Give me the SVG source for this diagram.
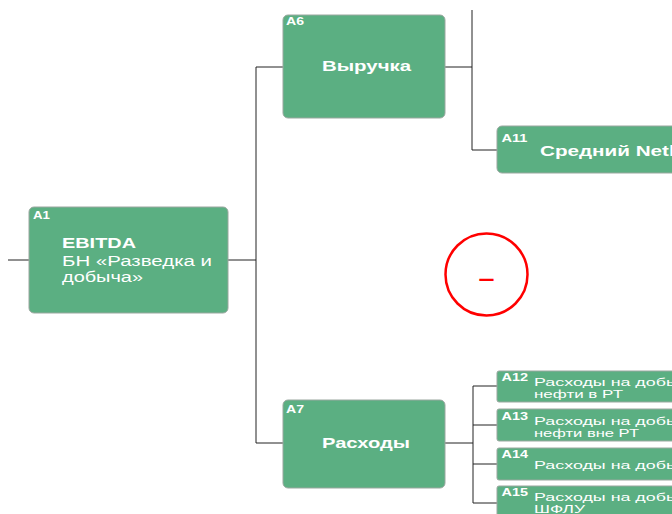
<svg xmlns="http://www.w3.org/2000/svg" width="672" height="514" viewBox="0 0 672 514">
<style>
.box{fill:#5BAF82;stroke:#9aa79f;stroke-width:1}
.id{font-family:"Liberation Sans",Arial,sans-serif;font-weight:bold;font-size:10.5px;fill:#fff}
.t{font-family:"Liberation Sans",Arial,sans-serif;font-size:14px;fill:#fff}
.h{font-family:"Liberation Sans",Arial,sans-serif;font-size:14px;font-weight:bold;fill:#fff}
.b{font-weight:bold}
.s{font-family:"Liberation Sans",Arial,sans-serif;font-size:11.5px;fill:#fff}
.c{fill:none;stroke:#222;stroke-width:1}
</style>
<rect width="672" height="514" fill="#fff"/>
<g id="connectors">
<path class="c" d="M8 260H29M228 260H256M256 67V443M256 67H283M256 443H283"/>
<path class="c" d="M445 67H472M472 10V150H497"/>
<path class="c" d="M445 443H473M473 386V503M473 386H497M473 425H497M473 464H497M473 503H497"/>
</g>
<g id="A1">
<rect class="box" x="29" y="207" width="199" height="106" rx="5"/>
<text class="id" x="33" y="219" textLength="17" lengthAdjust="spacingAndGlyphs">A1</text>
<text class="t b" x="62" y="247.5" textLength="74" lengthAdjust="spacingAndGlyphs">EBITDA</text>
<text class="t" x="62" y="265.5" textLength="150" lengthAdjust="spacingAndGlyphs">БН «Разведка и</text>
<text class="t" x="62" y="281.5" textLength="81" lengthAdjust="spacingAndGlyphs">добыча»</text>
</g>
<g id="A6">
<rect class="box" x="283" y="15" width="162" height="103" rx="5"/>
<text class="id" x="286" y="25" textLength="18" lengthAdjust="spacingAndGlyphs">A6</text>
<text class="h" x="322" y="71" textLength="89" lengthAdjust="spacingAndGlyphs">Выручка</text>
</g>
<g id="A11">
<rect class="box" x="497" y="126" width="190" height="47" rx="5"/>
<text class="id" x="501.5" y="141.5" textLength="26" lengthAdjust="spacingAndGlyphs">A11</text>
<text class="t b" x="540" y="156" textLength="176" lengthAdjust="spacingAndGlyphs">Средний Netback</text>
</g>
<g id="minus">
<circle cx="486.5" cy="274.5" r="41" fill="none" stroke="#f00" stroke-width="2.5"/>
<text x="478.5" y="286" textLength="16" lengthAdjust="spacingAndGlyphs" font-family="Liberation Sans,Arial,sans-serif" font-weight="bold" font-size="22" fill="#f00">–</text>
</g>
<g id="A7">
<rect class="box" x="283" y="400" width="162" height="88" rx="5"/>
<text class="id" x="286" y="412.5" textLength="18" lengthAdjust="spacingAndGlyphs">A7</text>
<text class="h" x="322" y="448" textLength="88" lengthAdjust="spacingAndGlyphs">Расходы</text>
</g>
<g id="A12">
<rect class="box" x="497" y="371" width="190" height="31" rx="2"/>
<text class="id" x="501.5" y="381" textLength="26.5" lengthAdjust="spacingAndGlyphs">A12</text>
<text class="s" x="534" y="386" textLength="163" lengthAdjust="spacingAndGlyphs">Расходы на добычу</text>
<text class="s" x="534" y="398" textLength="89" lengthAdjust="spacingAndGlyphs">нефти в РТ</text>
</g>
<g id="A13">
<rect class="box" x="497" y="409" width="190" height="32" rx="2"/>
<text class="id" x="501.5" y="420" textLength="26.5" lengthAdjust="spacingAndGlyphs">A13</text>
<text class="s" x="534" y="425" textLength="163" lengthAdjust="spacingAndGlyphs">Расходы на добычу</text>
<text class="s" x="534" y="437" textLength="105" lengthAdjust="spacingAndGlyphs">нефти вне РТ</text>
</g>
<g id="A14">
<rect class="box" x="497" y="448" width="190" height="32" rx="2"/>
<text class="id" x="501.5" y="458" textLength="26.5" lengthAdjust="spacingAndGlyphs">A14</text>
<text class="s" x="534" y="468.5" textLength="163" lengthAdjust="spacingAndGlyphs">Расходы на добычу</text>
</g>
<g id="A15">
<rect class="box" x="497" y="486" width="190" height="36" rx="2"/>
<text class="id" x="501.5" y="495.5" textLength="26.5" lengthAdjust="spacingAndGlyphs">A15</text>
<text class="s" x="534" y="500.5" textLength="163" lengthAdjust="spacingAndGlyphs">Расходы на добычу</text>
<text class="s" x="534" y="512.5" textLength="51" lengthAdjust="spacingAndGlyphs">ШФЛУ</text>
</g>
</svg>
